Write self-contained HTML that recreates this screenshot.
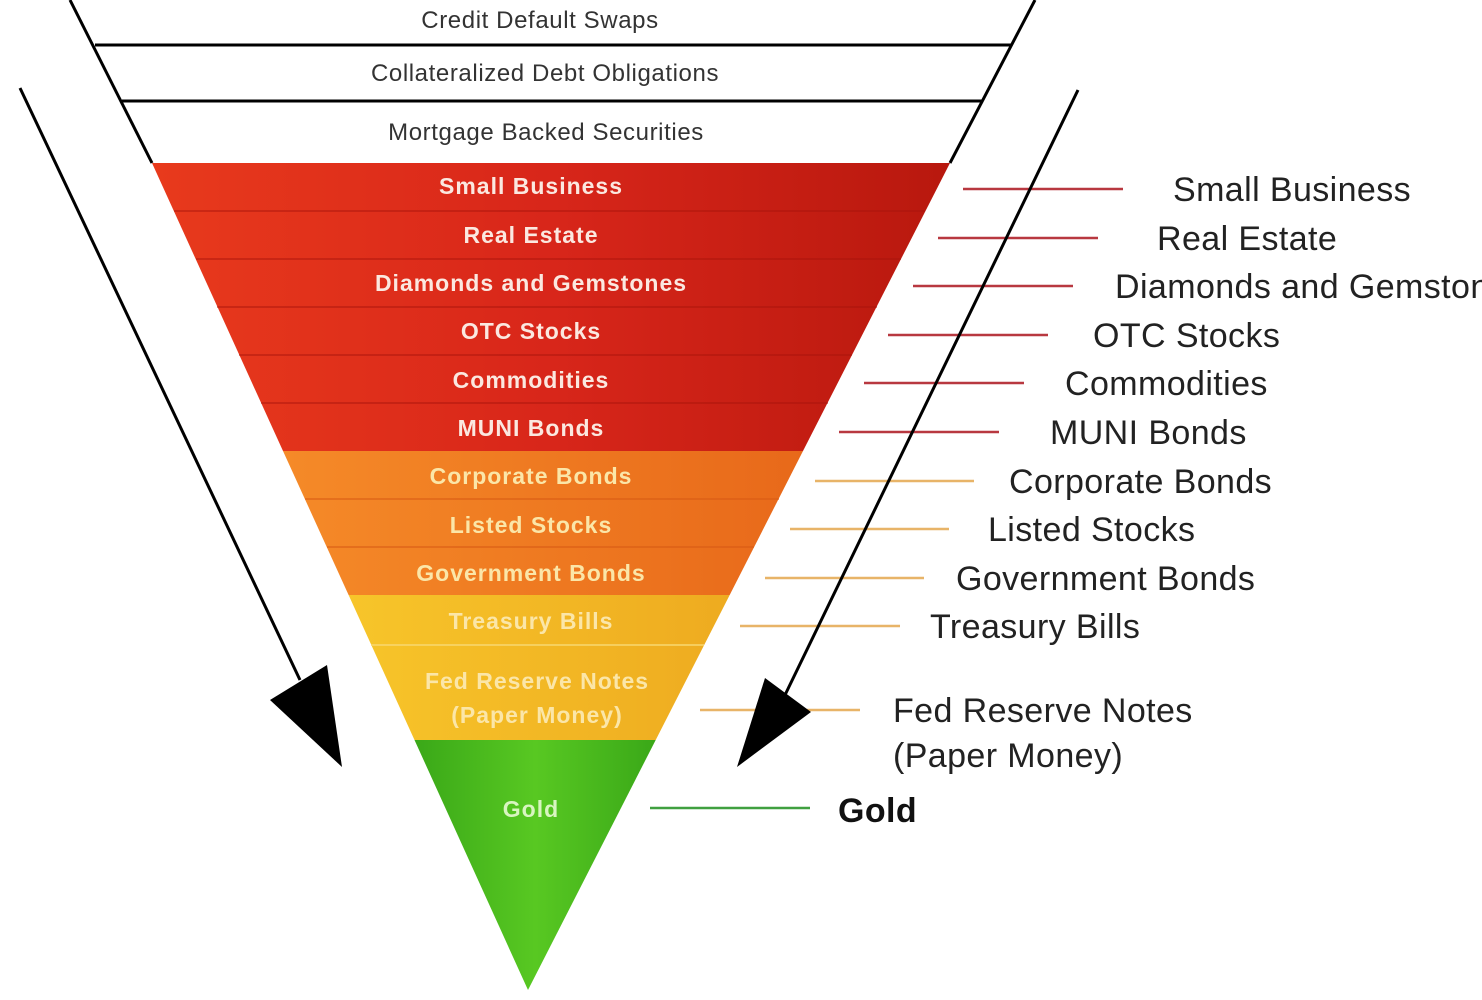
<!DOCTYPE html>
<html><head><meta charset="utf-8"><style>
html,body{margin:0;padding:0;background:#fff;}
svg{display:block;font-family:"Liberation Sans",sans-serif;}
.in{font-weight:bold;font-size:23px;letter-spacing:1px;text-anchor:middle;}
.out{font-size:34px;letter-spacing:0.4px;fill:#222;}
.top{font-size:24px;letter-spacing:0.6px;fill:#333;text-anchor:middle;}
</style></head><body>
<svg width="1482" height="1000" viewBox="0 0 1482 1000" xmlns="http://www.w3.org/2000/svg">
<defs>
<linearGradient id="red" x1="0" x2="1" y1="0" y2="0"><stop offset="0" stop-color="#e83a1c"/><stop offset="0.5" stop-color="#d8261a"/><stop offset="1" stop-color="#b8180e"/></linearGradient>
<linearGradient id="org" x1="0" x2="1"><stop offset="0" stop-color="#f58a28"/><stop offset="1" stop-color="#e8691a"/></linearGradient>
<linearGradient id="yel" x1="0" x2="1"><stop offset="0" stop-color="#f7c52a"/><stop offset="1" stop-color="#eeab20"/></linearGradient>
<linearGradient id="grn" x1="0" x2="1"><stop offset="0" stop-color="#3aa818"/><stop offset="0.5" stop-color="#58c822"/><stop offset="1" stop-color="#3aa818"/></linearGradient>
</defs>
<rect width="1482" height="1000" fill="#fff"/>
<line x1="70" y1="0" x2="152" y2="163" stroke="#000" stroke-width="3"/>
<line x1="1035" y1="0" x2="950" y2="163" stroke="#000" stroke-width="3"/>
<line x1="95" y1="45" x2="1012" y2="45" stroke="#000" stroke-width="3"/>
<line x1="122" y1="101" x2="983" y2="101" stroke="#000" stroke-width="3"/>
<text class="top" x="540" y="28">Credit Default Swaps</text>
<text class="top" x="545" y="81">Collateralized Debt Obligations</text>
<text class="top" x="546" y="140">Mortgage Backed Securities</text>
<polygon points="152,163 950,163 803,451 283,451" fill="url(#red)"/>
<polygon points="283,451 803,451 729.7,595 348.6,595" fill="url(#org)"/>
<polygon points="348.6,595 729.7,595 655.7,740 414.5,740" fill="url(#yel)"/>
<polygon points="414.5,740 655.7,740 528,990" fill="url(#grn)"/>
<g stroke="#a8140c" stroke-width="1.5" opacity="0.6">
<line x1="174" y1="211" x2="925" y2="211"/><line x1="196" y1="259" x2="901" y2="259"/>
<line x1="217" y1="307" x2="877" y2="307"/><line x1="239" y1="355" x2="852" y2="355"/>
<line x1="261" y1="403" x2="828" y2="403"/>
</g>
<g stroke="#d85a14" stroke-width="1.5" opacity="0.7">
<line x1="305" y1="499" x2="779" y2="499"/><line x1="327" y1="547" x2="754" y2="547"/>
</g>
<line x1="371" y1="645" x2="704" y2="645" stroke="#f8d870" stroke-width="1.5"/>
<g class="in" fill="#fbe8e0">
<text x="531" y="194">Small Business</text>
<text x="531" y="243">Real Estate</text>
<text x="531" y="291">Diamonds and Gemstones</text>
<text x="531" y="339">OTC Stocks</text>
<text x="531" y="388">Commodities</text>
<text x="531" y="436">MUNI Bonds</text>
</g>
<g class="in" fill="#fbe6a8">
<text x="531" y="484">Corporate Bonds</text>
<text x="531" y="533">Listed Stocks</text>
<text x="531" y="581">Government Bonds</text>
<text x="531" y="629">Treasury Bills</text>
<text x="537" y="689">Fed Reserve Notes</text>
<text x="537" y="723">(Paper Money)</text>
</g>
<text class="in" x="531" y="817" fill="#d8f5c0">Gold</text>
<g stroke="#b83840" stroke-width="2.5">
<line x1="963" y1="189" x2="1123" y2="189"/><line x1="938" y1="238" x2="1098" y2="238"/>
<line x1="913" y1="286" x2="1073" y2="286"/><line x1="888" y1="335" x2="1048" y2="335"/>
<line x1="864" y1="383" x2="1024" y2="383"/><line x1="839" y1="432" x2="999" y2="432"/>
</g>
<g stroke="#e8b468" stroke-width="2.5">
<line x1="815" y1="481" x2="974" y2="481"/><line x1="790" y1="529" x2="949" y2="529"/>
<line x1="765" y1="578" x2="924" y2="578"/><line x1="740" y1="626" x2="900" y2="626"/>
<line x1="700" y1="710" x2="860" y2="710"/>
</g>
<line x1="650" y1="808" x2="810" y2="808" stroke="#40a040" stroke-width="2.5"/>
<g class="out">
<text x="1173" y="201">Small Business</text>
<text x="1157" y="250">Real Estate</text>
<text x="1115" y="298">Diamonds and Gemstones</text>
<text x="1093" y="347">OTC Stocks</text>
<text x="1065" y="395">Commodities</text>
<text x="1050" y="444">MUNI Bonds</text>
<text x="1009" y="493">Corporate Bonds</text>
<text x="988" y="541">Listed Stocks</text>
<text x="956" y="590">Government Bonds</text>
<text x="930" y="638">Treasury Bills</text>
<text x="893" y="722">Fed Reserve Notes</text>
<text x="893" y="767">(Paper Money)</text>
<text x="838" y="822" font-weight="bold" fill="#111">Gold</text>
</g>
<line x1="20" y1="88" x2="300" y2="680" stroke="#000" stroke-width="3"/>
<polygon points="270,700 327,665 342,767" fill="#000"/>
<line x1="1078" y1="90" x2="785" y2="695" stroke="#000" stroke-width="3"/>
<polygon points="765,678 811,712 737,767" fill="#000"/>
</svg>
</body></html>
